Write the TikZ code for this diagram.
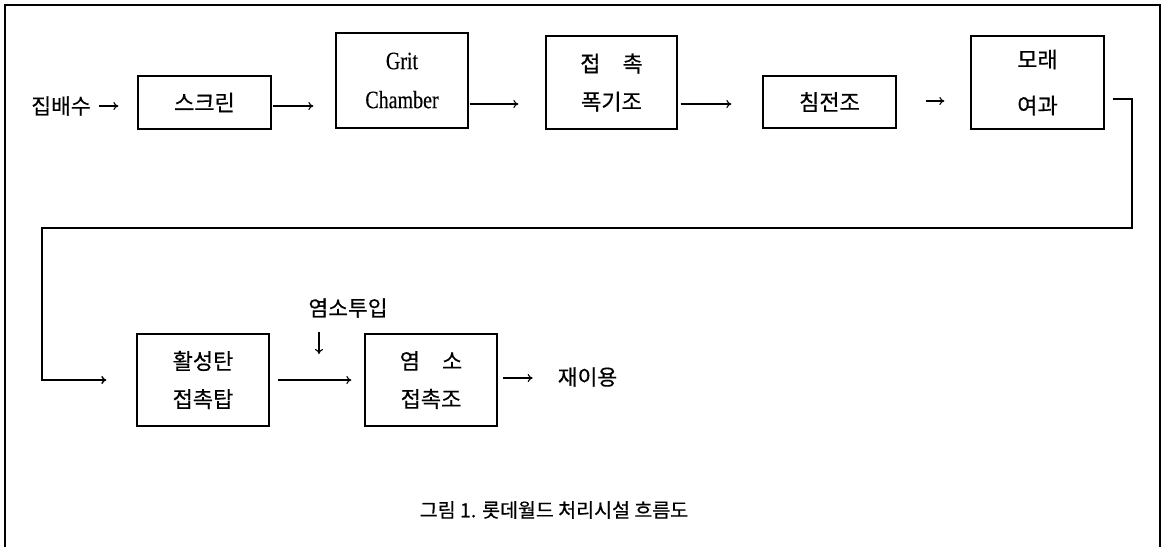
\documentclass[tikz,border=0pt]{standalone}
\usepackage{fontspec}
\newfontfamily\kr[FakeBold=0.4]{Noto Sans CJK KR}
\newfontfamily\krcap[FakeBold=0.6]{Noto Sans CJK KR}
\newfontfamily\gritfont[FakeStretch=0.8,FakeBold=0.3]{Liberation Serif}
\usetikzlibrary{arrows.meta}
\begin{document}
\begin{tikzpicture}[x=1pt,y=-1pt,
  procbox/.style={draw,line width=1.3pt,inner sep=0pt,align=center,font=\kr\fontsize{22}{38}\selectfont},
  lbltxt/.style={inner sep=0pt,font=\kr\fontsize{21.5}{24}\selectfont},
  captxt/.style={inner sep=0pt,font=\krcap\fontsize{19.5}{22}\selectfont},
  arr/.style={line width=1.1pt,-{To[length=5pt,width=8pt]}},
  outerframe/.style={line width=1.3pt}]
\useasboundingbox (0,0) rectangle (1169,547);
\draw[outerframe] (5,547) -- (5,5) -- (1160,5) -- (1160,547);
% top row
\node[lbltxt] (in) at (61,106) {집배수};
\node[procbox,minimum width=133pt,minimum height=53pt] (scr) at (204.5,102.5) {스크린};
\node[procbox,minimum width=132pt,minimum height=95pt,font=\gritfont\fontsize{25}{39}\selectfont] (grit) at (402,80.5) {Grit\\Chamber};
\node[procbox,minimum width=131pt,minimum height=93pt] (aer) at (611.5,82.5) {접\hspace{1em}촉\\폭기조};
\node[procbox,minimum width=133pt,minimum height=52pt] (sed) at (829.5,102) {침전조};
\node[procbox,minimum width=133pt,minimum height=93pt] (sand) at (1037.5,82.5) {모래\\[8pt]여과};
% bottom row
\node[procbox,minimum width=132pt,minimum height=92pt] (act) at (203,380) {활성탄\\접촉탑};
\node[procbox,minimum width=132pt,minimum height=92pt] (cl) at (431,380) {염\hspace{1em}소\\접촉조};
\node[lbltxt] (clin) at (348,308) {염소투입};
\node[lbltxt] (reuse) at (587.5,377) {재이용};
\node[captxt] (caption) at (554,510) {그림 1. 롯데월드 처리시설 흐름도};
% row coordinates
\coordinate (r1) at (0,106);
\coordinate (r2) at (0,104);
\coordinate (r3) at (0,101);
\coordinate (c1) at (1132,99);
\coordinate (c2) at (1132,228);
\coordinate (c3) at (42,228);
\coordinate (c4) at (42,380);
\coordinate (dn) at (319,354);
% connectors
\draw[arr,shorten <=8pt,shorten >=19pt] (in.east |- r1) -- (scr.west |- r1);
\draw[arr,shorten <=1pt,shorten >=22pt] (scr.east |- r1) -- (grit.west |- r1);
\draw[arr,shorten <=1pt,shorten >=27pt] (grit.east |- r2) -- (aer.west |- r2);
\draw[arr,shorten <=3pt,shorten >=31pt] (aer.east |- r2) -- (sed.west |- r2);
\draw[arr,shorten <=29pt,shorten >=26pt] (sed.east |- r3) -- (sand.west |- r3);
\draw[arr,line width=1.4pt,shorten <=8pt,shorten >=30pt] (sand.east |- c1) -- (c1) -- (c2) -- (c3) -- (c4) -- (act.west |- c4);
\draw[arr,shorten <=8pt,shorten >=13pt] (act.east) -- (cl.west);
\draw[arr,shorten <=14pt] (clin.south -| dn) -- (dn);
\draw[arr,shorten <=5pt,shorten >=25pt] (cl.east |- 0,378) -- (reuse.west |- 0,378);
\end{tikzpicture}
\end{document}
